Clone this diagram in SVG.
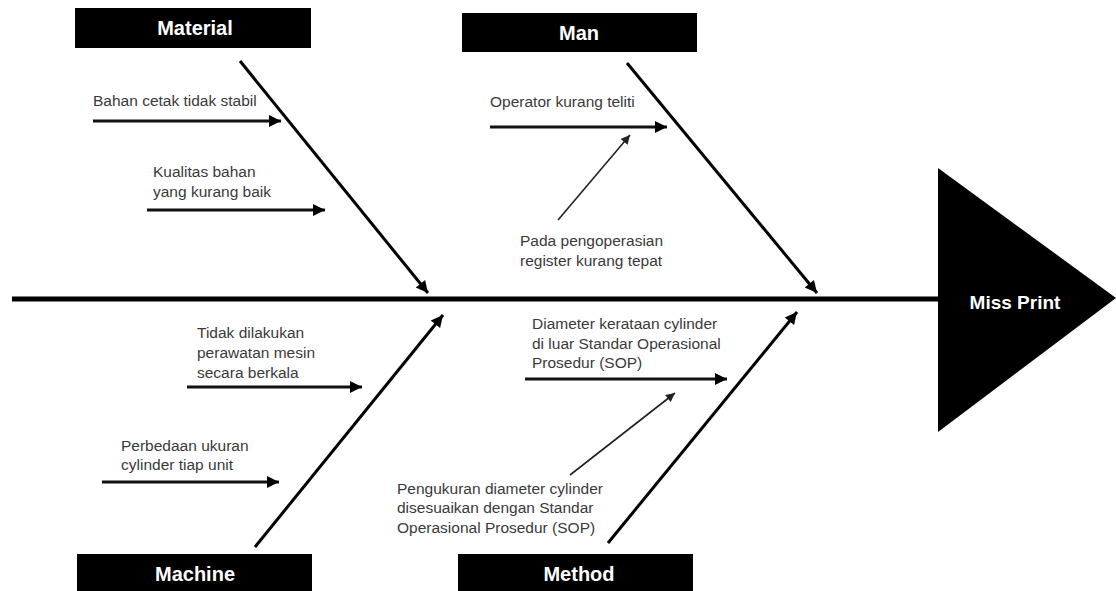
<svg xmlns="http://www.w3.org/2000/svg" width="1116" height="591" viewBox="0 0 1116 591">
<style>
.box{fill:#000}
.hdr{font-family:"Liberation Sans",Arial,sans-serif;font-weight:bold;font-size:20px;fill:#fff;text-anchor:middle}
.lbl{font-family:"Liberation Sans",Arial,sans-serif;font-size:15.5px;fill:#3a3a3a}
.bone{stroke:#000;stroke-width:3;fill:none}
.sub{stroke:#111;stroke-width:3;fill:none}
.thin{stroke:#222;stroke-width:1.6;fill:none}
</style>
<defs>
<marker id="ah" viewBox="0 0 10 10" refX="10" refY="5" markerWidth="14" markerHeight="12" markerUnits="userSpaceOnUse" orient="auto"><path d="M0,0 L10,5 L0,10 z" fill="#000"/></marker>
<marker id="ahs" viewBox="0 0 10 10" refX="10" refY="5" markerWidth="10" markerHeight="9" markerUnits="userSpaceOnUse" orient="auto"><path d="M0,0 L10,5 L0,10 z" fill="#222"/></marker>
</defs>
<rect width="1116" height="591" fill="#fff"/>
<g id="connectors">
<line x1="12" y1="299" x2="940" y2="299" stroke="#000" stroke-width="5"/>
<line class="bone" x1="240" y1="61" x2="428" y2="293" marker-end="url(#ah)"/>
<line class="bone" x1="627" y1="63" x2="817" y2="293" marker-end="url(#ah)"/>
<line class="bone" x1="255" y1="547" x2="443" y2="315" marker-end="url(#ah)"/>
<line class="bone" x1="608" y1="543" x2="797" y2="312" marker-end="url(#ah)"/>
<line class="sub" x1="93" y1="121" x2="281" y2="121" marker-end="url(#ah)"/>
<line class="sub" x1="147" y1="210" x2="325" y2="210" marker-end="url(#ah)"/>
<line class="sub" x1="490" y1="127" x2="667" y2="127" marker-end="url(#ah)"/>
<line class="thin" x1="558" y1="220" x2="630" y2="135" marker-end="url(#ahs)"/>
<line class="sub" x1="187" y1="387" x2="362" y2="387" marker-end="url(#ah)"/>
<line class="sub" x1="102" y1="482" x2="279" y2="482" marker-end="url(#ah)"/>
<line class="sub" x1="525" y1="379" x2="727" y2="379" marker-end="url(#ah)"/>
<line class="thin" x1="570" y1="475" x2="675" y2="393" marker-end="url(#ahs)"/>
</g>
<g id="effect">
<polygon points="938,168 1116,298 938,432" fill="#000"/>
<text class="hdr" x="1015" y="309" style="font-size:19px">Miss Print</text>
</g>
<g id="material">
<rect class="box" x="75" y="8" width="236" height="40"/>
<text class="hdr" x="195" y="35">Material</text>
<text class="lbl" x="93" y="106">Bahan cetak tidak stabil</text>
<text class="lbl" x="153" y="177">Kualitas bahan</text>
<text class="lbl" x="153" y="197">yang kurang baik</text>
</g>
<g id="man">
<rect class="box" x="462" y="13" width="235" height="39"/>
<text class="hdr" x="579" y="40">Man</text>
<text class="lbl" x="490" y="107">Operator kurang teliti</text>
<text class="lbl" x="520" y="246">Pada pengoperasian</text>
<text class="lbl" x="520" y="266">register kurang tepat</text>
</g>
<g id="machine">
<rect class="box" x="77" y="554" width="235" height="40"/>
<text class="hdr" x="195" y="581">Machine</text>
<text class="lbl" x="197" y="338">Tidak dilakukan</text>
<text class="lbl" x="197" y="358">perawatan mesin</text>
<text class="lbl" x="197" y="378">secara berkala</text>
<text class="lbl" x="121" y="451">Perbedaan ukuran</text>
<text class="lbl" x="121" y="470">cylinder tiap unit</text>
</g>
<g id="method">
<rect class="box" x="458" y="554" width="235" height="40"/>
<text class="hdr" x="579" y="581">Method</text>
<text class="lbl" x="532" y="329">Diameter kerataan cylinder</text>
<text class="lbl" x="532" y="349">di luar Standar Operasional</text>
<text class="lbl" x="532" y="368">Prosedur (SOP)</text>
<text class="lbl" x="397" y="494">Pengukuran diameter cylinder</text>
<text class="lbl" x="397" y="513">disesuaikan dengan Standar</text>
<text class="lbl" x="397" y="533">Operasional Prosedur (SOP)</text>
</g>
</svg>
